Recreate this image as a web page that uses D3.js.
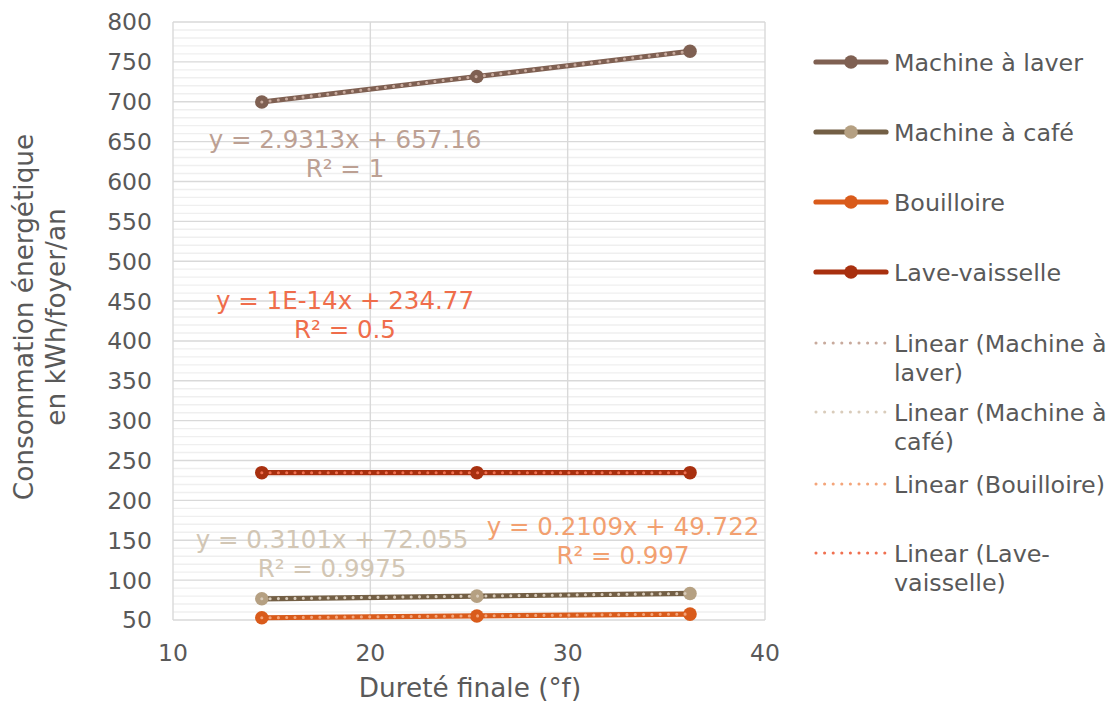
<!DOCTYPE html>
<html><head><meta charset="utf-8">
<script src="https://cdn.jsdelivr.net/npm/d3@7"></script>
<style>
html,body{margin:0;padding:0;background:#fff;}
text{font-family:"DejaVu Sans",Verdana,sans-serif;}
</style></head>
<body>
<svg id="chart" width="1118" height="707"></svg>
<script>
// ---- data ----
const hardness = [14.5, 25.4, 36.2];
const machineALaver = [699.7, 731.6, 763.3];
const machineACafe = [76.6, 79.9, 83.3];
const bouilloire = [52.8, 55.1, 57.4];
const laveVaisselle = [234.77, 234.77, 234.77];
const seriesNames = ["Machine à laver", "Machine à café", "Bouilloire", "Lave-vaisselle"];
const trendNames = [["Linear (Machine à", "laver)"], ["Linear (Machine à", "café)"], ["Linear (Bouilloire)"], ["Linear (Lave-", "vaisselle)"]];
const equationLabels = [
  ["y = 2.9313x + 657.16", "R² = 1"],
  ["y = 0.3101x + 72.055", "R² = 0.9975"],
  ["y = 0.2109x + 49.722", "R² = 0.997"],
  ["y = 1E-14x + 234.77", "R² = 0.5"]
];
const xTicks = [10, 20, 30, 40];
const yTicks = d3.range(50, 801, 50);
const yMinorTicks = d3.range(50, 801, 10).filter(v => v % 50 !== 0);
const xTitle = "Dureté finale (°f)";
const yTitle = ["Consommation énergétique", "en kWh/foyer/an"];

// ---- styles / layout ----
const seriesValues = [machineALaver, machineACafe, bouilloire, laveVaisselle];
const lineColors = ["#7f6052", "#735f45", "#d95b1b", "#a8300f"];
const markerColors = ["#7f6052", "#b5a082", "#d95b1b", "#a8300f"];
const trendColors = ["#c8aa9d", "#d9ccbb", "#f4a57a", "#f07050"];
const labelColors = ["#bca093", "#d2c6b4", "#f2a070", "#ef6d4b"];
const labelPos = [[345, 148], [332, 548], [623, 535], [345, 309]];
const legendY = [62, 132, 202, 272, 343, 412, 484, 553];
const FS_TICK = 23.5, FS_LEG = 23.8, FS_EQ = 24.5, FS_TITLE = 26.3;
const textColor = "#595959";

const svg = d3.select("#chart");
const x = d3.scaleLinear().domain([10, 40]).range([173, 765]);
const y = d3.scaleLinear().domain([50, 800]).range([620, 22]);

// gridlines
svg.append("g").selectAll("line").data(yMinorTicks).join("line")
  .attr("x1", x(10)).attr("x2", x(40)).attr("y1", d => y(d)).attr("y2", d => y(d))
  .attr("stroke", "#efefef").attr("stroke-width", 1.4);
svg.append("g").selectAll("line").data(yTicks).join("line")
  .attr("x1", x(10)).attr("x2", x(40)).attr("y1", d => y(d)).attr("y2", d => y(d))
  .attr("stroke", "#d9d9d9").attr("stroke-width", 1.4);
svg.append("g").selectAll("line").data(xTicks).join("line")
  .attr("x1", d => x(d)).attr("x2", d => x(d)).attr("y1", y(50)).attr("y2", y(800))
  .attr("stroke", "#d9d9d9").attr("stroke-width", 1.4);

// tick labels
svg.append("g").selectAll("text").data(yTicks).join("text")
  .attr("x", 152).attr("y", d => y(d)).attr("dy", "0.36em")
  .attr("text-anchor", "end").attr("font-size", FS_TICK).attr("fill", textColor)
  .text(d => d);
svg.append("g").selectAll("text").data(xTicks).join("text")
  .attr("x", d => x(d)).attr("y", 661)
  .attr("text-anchor", "middle").attr("font-size", FS_TICK).attr("fill", textColor)
  .text(d => d);

// axis titles
svg.append("text").attr("x", 470).attr("y", 697).attr("text-anchor", "middle")
  .attr("font-size", FS_TITLE).attr("fill", textColor).text(xTitle);
const yt = svg.append("text").attr("transform", "translate(0,317) rotate(-90)")
  .attr("text-anchor", "middle").attr("font-size", FS_TITLE).attr("fill", textColor);
yt.append("tspan").attr("x", 0).attr("y", 33).text(yTitle[0]);
yt.append("tspan").attr("x", 0).attr("y", 65).text(yTitle[1]);

// regression
function fit(xs, ys) {
  const mx = d3.mean(xs), my = d3.mean(ys);
  let sxy = 0, sxx = 0;
  xs.forEach((v, i) => { sxy += (v - mx) * (ys[i] - my); sxx += (v - mx) ** 2; });
  const b = sxy / sxx;
  return { b, a: my - b * mx };
}

const line = d3.line().x(d => x(d[0])).y(d => y(d[1]));

// series lines
seriesValues.forEach((vals, i) => {
  const pts = hardness.map((h, j) => [h, vals[j]]);
  svg.append("path").datum(pts).attr("d", line).attr("fill", "none")
    .attr("stroke", lineColors[i]).attr("stroke-width", 5.2).attr("stroke-linejoin", "round");
});
// markers
seriesValues.forEach((vals, i) => {
  svg.append("g").selectAll("circle").data(hardness.map((h, j) => [h, vals[j]])).join("circle")
    .attr("cx", d => x(d[0])).attr("cy", d => y(d[1])).attr("r", 6.8)
    .attr("fill", markerColors[i]);
});
// trendlines
seriesValues.forEach((vals, i) => {
  const f = fit(hardness, vals);
  const ext = d3.extent(hardness);
  const pts = ext.map(h => [h, f.a + f.b * h]);
  svg.append("path").datum(pts).attr("d", line).attr("fill", "none")
    .attr("stroke", trendColors[i]).attr("stroke-width", 3.1)
    .attr("stroke-dasharray", "0 8.3").attr("stroke-linecap", "round");
});
// equation labels
equationLabels.forEach((lines, i) => {
  const t = svg.append("text").attr("text-anchor", "middle").attr("font-size", FS_EQ)
    .attr("fill", labelColors[i]);
  lines.forEach((s, k) => t.append("tspan").attr("x", labelPos[i][0])
    .attr("y", labelPos[i][1] + k * 28.5).text(s));
});

// legend
const lx0 = 816, lx1 = 886, ltx = 894;
seriesNames.forEach((name, i) => {
  const ly = legendY[i];
  svg.append("line").attr("x1", lx0).attr("x2", lx1).attr("y1", ly).attr("y2", ly)
    .attr("stroke", lineColors[i]).attr("stroke-width", 5.2).attr("stroke-linecap", "round");
  svg.append("circle").attr("cx", (lx0 + lx1) / 2).attr("cy", ly).attr("r", 6.8).attr("fill", markerColors[i]);
  svg.append("text").attr("x", ltx).attr("y", ly).attr("dy", "0.36em")
    .attr("font-size", FS_LEG).attr("fill", textColor).text(name);
});
trendNames.forEach((lines, i) => {
  const ly = legendY[4 + i];
  svg.append("line").attr("x1", lx0).attr("x2", lx1 + 2).attr("y1", ly).attr("y2", ly)
    .attr("stroke", trendColors[i]).attr("stroke-width", 3.1)
    .attr("stroke-dasharray", "0 8.6").attr("stroke-linecap", "round");
  const t = svg.append("text").attr("font-size", FS_LEG).attr("fill", textColor);
  lines.forEach((s, k) => t.append("tspan").attr("x", ltx).attr("y", ly + k * 29).attr("dy", "0.36em").text(s));
});
</script>
</body></html>
